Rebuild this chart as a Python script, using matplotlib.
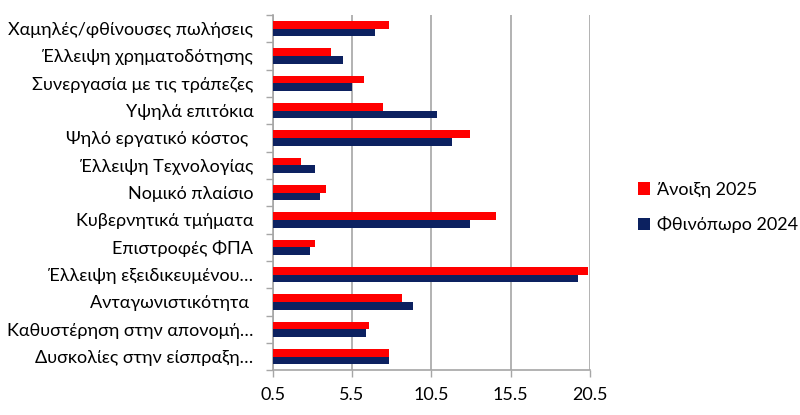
import matplotlib
matplotlib.use("Agg")
import matplotlib.pyplot as plt
import numpy as np

plt.rcParams['font.family'] = ['Lato', 'DejaVu Sans']

categories = [
    "Χαμηλές/φθίνουσες πωλήσεις",
    "Έλλειψη χρηματοδότησης",
    "Συνεργασία με τις τράπεζες",
    "Υψηλά επιτόκια",
    "Ψηλό εργατικό κόστος ",
    "Έλλειψη Τεχνολογίας",
    "Νομικό πλαίσιο",
    "Κυβερνητικά τμήματα",
    "Επιστροφές ΦΠΑ",
    "Έλλειψη εξειδικευμένου…",
    "Ανταγωνιστικότητα ",
    "Καθυστέρηση στην απονομή…",
    "Δυσκολίες στην είσπραξη…",
]
spring_2025 = [7.85, 4.15, 6.25, 7.45, 12.95, 2.25, 3.85, 14.55, 3.15, 20.35, 8.65, 6.55, 7.85]
autumn_2024 = [6.95, 4.95, 5.5, 10.85, 11.8, 3.15, 3.45, 12.95, 2.85, 19.75, 9.35, 6.35, 7.85]
series_names = ["Άνοιξη 2025", "Φθινόπωρο 2024"]
xticks = [0.5, 5.5, 10.5, 15.5, 20.5]

RED = "#ff0000"
NAVY = "#0c2160"
GRID = "#a6a6a6"
FS = 13

fig = plt.figure(figsize=(8, 4.15), dpi=100)
ax = fig.add_axes([0.341, 0.108, 0.3965, 0.856])

n = len(categories)
y = np.arange(n)
h = 0.28
base = 0.5
ax.barh(y - h / 2, np.array(spring_2025) - base, left=base, height=h, color=RED, label=series_names[0], zorder=3)
ax.barh(y + h / 2, np.array(autumn_2024) - base, left=base, height=h, color=NAVY, label=series_names[1], zorder=3)

ax.set_xlim(0.5, 20.5)
ax.set_ylim(n - 0.5, -0.5)
ax.set_xticks(xticks)
ax.set_xticklabels([f"{v:.1f}" for v in xticks], fontsize=FS, color="#000000")
ax.set_yticks(y)
ax.set_yticklabels(categories, fontsize=FS, color="#000000")
ax.set_yticks(np.arange(n + 1) - 0.5, minor=True)
ax.tick_params(axis='y', which='major', length=0, pad=14)
ax.tick_params(axis='y', which='minor', length=5, color=GRID, width=1)
ax.tick_params(axis='x', which='major', length=5, color=GRID, width=1, pad=7)

ax.grid(axis='x', color=GRID, linewidth=1.2, zorder=0)
for s in ['top', 'right']:
    ax.spines[s].set_visible(False)
for s in ['left', 'bottom']:
    ax.spines[s].set_color(GRID)
    ax.spines[s].set_linewidth(1.2)

leg = fig.legend(loc='center left', bbox_to_anchor=(0.777, 0.5), frameon=False,
                 fontsize=FS, handlelength=0.7, handleheight=0.7, handletextpad=0.35,
                 labelspacing=1.05)

fig.savefig("out.png", dpi=100)
